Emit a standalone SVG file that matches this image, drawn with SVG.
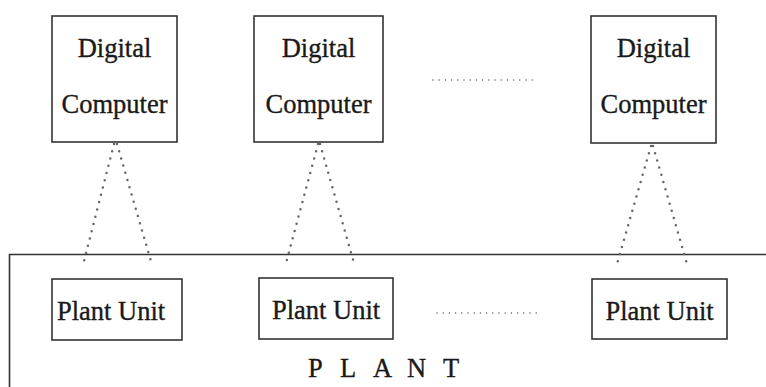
<svg xmlns="http://www.w3.org/2000/svg" width="766" height="387" viewBox="0 0 766 387">
<style>
.box{fill:#fff;stroke:#333;stroke-width:1.6}
.t{font-family:"Liberation Serif","Times New Roman",serif;font-size:26.5px;fill:#1a1a1a;stroke:#1a1a1a;stroke-width:0.35;text-anchor:middle}
.dot{fill:none;stroke:#666;stroke-width:2.5;stroke-linecap:round;stroke-dasharray:0 7.5}
.fine{fill:none;stroke:#555;stroke-width:1.4;stroke-linecap:round;stroke-dasharray:0 6.2}
</style>
<rect width="766" height="387" fill="#fff"/>
<g id="plant">
<path d="M9.5 387 V254.5 H766" fill="none" stroke="#333" stroke-width="1.6"/>
<text class="t" style="text-anchor:start" y="377"><tspan x="308">P</tspan><tspan x="340">L</tspan><tspan x="373">A</tspan><tspan x="407">N</tspan><tspan x="443">T</tspan></text>
</g>
<g id="computer1">
<rect class="box" x="52" y="16" width="125" height="126"/>
<text class="t" x="114.5" y="57">Digital</text>
<text class="t" x="114.5" y="113">Computer</text>
</g>
<g id="computer2">
<rect class="box" x="254" y="16" width="129" height="126"/>
<text class="t" x="318.5" y="57">Digital</text>
<text class="t" x="318.5" y="113">Computer</text>
</g>
<g id="computer3">
<rect class="box" x="591" y="16" width="125" height="127"/>
<text class="t" x="653.5" y="57">Digital</text>
<text class="t" x="653.5" y="113">Computer</text>
</g>
<g id="unit1">
<rect class="box" x="52" y="279" width="130" height="61"/>
<text class="t" style="text-anchor:start" x="57" y="320">Plant Unit</text>
</g>
<g id="unit2">
<rect class="box" x="259" y="278" width="134" height="61"/>
<text class="t" x="326" y="319">Plant Unit</text>
</g>
<g id="unit3">
<rect class="box" x="592" y="279" width="135" height="60"/>
<text class="t" x="659.5" y="320">Plant Unit</text>
</g>
<g id="connectors">
<path class="dot" d="M114 144 L83 265"/>
<path class="dot" d="M117 144 L152 265"/>
<path class="dot" d="M318 144 L286 263"/>
<path class="dot" d="M320 144 L354 263"/>
<path class="dot" d="M651 146 L617 264"/>
<path class="dot" d="M653 146 L687 264"/>
<path class="fine" d="M433 80 H535"/>
<path class="fine" d="M437 313 H538"/>
</g>
</svg>
